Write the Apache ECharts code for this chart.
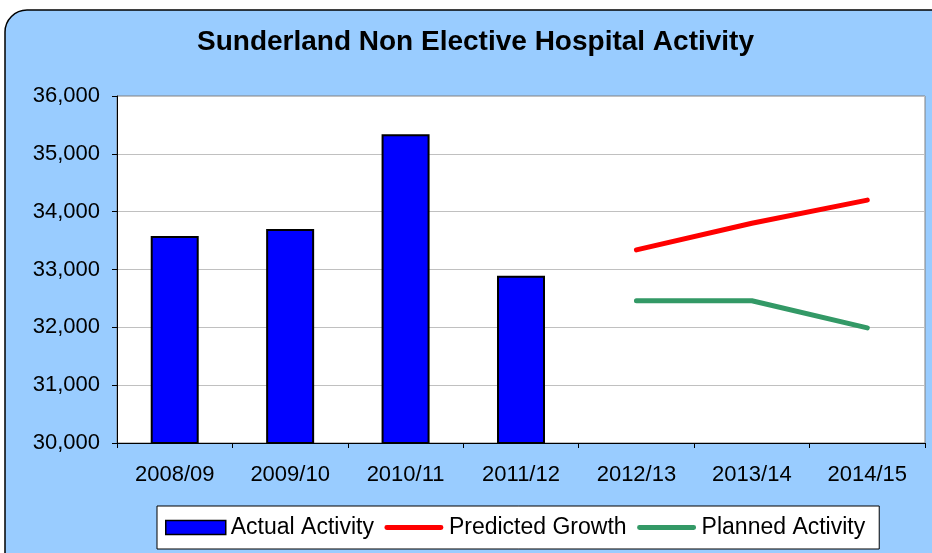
<!DOCTYPE html>
<html><head><meta charset="utf-8">
<script src="https://cdn.jsdelivr.net/npm/echarts@6/dist/echarts.min.js"></script>
<style>html,body{margin:0;padding:0;background:#fff}#c{width:932px;height:553px}</style>
</head><body><div id="c"></div>
<script>
const categories = ['2008/09','2009/10','2010/11','2011/12','2012/13','2013/14','2014/15'];
const actualActivity = [33580, 33700, 35340, 32890, null, null, null];
const predictedGrowth = [null, null, null, null, 33340, 33800, 34200];
const plannedActivity = [null, null, null, null, 32460, 32460, 31990];
const yTicks = [30000, 31000, 32000, 33000, 34000, 35000, 36000];

const chart = echarts.init(document.getElementById('c'));
const font = '"Liberation Sans", Arial, sans-serif';
const lineIcon = 'path://M0,0 M62,14 M3,4.5 L59,4.5 A2.5,2.5 0 0 1 59,9.5 L3,9.5 A2.5,2.5 0 0 1 3,4.5 Z';
chart.setOption({
  animation: false,
  backgroundColor: '#fff',
  graphic: [{
    type: 'rect', z: -10, silent: true,
    shape: { x: 5, y: 10, width: 960, height: 580, r: 22 },
    style: { fill: '#99CCFF', stroke: '#000', lineWidth: 1.5 }
  }],
  title: {
    text: 'Sunderland Non Elective Hospital Activity',
    left: 192, top: 23,
    textStyle: { fontFamily: font, fontWeight: 'bold', fontSize: 28, color: '#000' }
  },
  grid: {
    left: 117, right: 7, top: 96, bottom: 110,
    show: true, backgroundColor: '#fff', borderColor: '#808080', borderWidth: 1
  },
  legend: {
    left: 157, top: 506,
    backgroundColor: '#fff', borderColor: '#000', borderWidth: 1,
    padding: [10, 14, 10, 8],
    itemWidth: 60, itemHeight: 14, itemGap: 10,
    textStyle: { fontFamily: font, fontSize: 23, color: '#000' },
    data: [
      { name: 'Actual Activity', icon: 'rect', itemStyle: { borderColor: '#000', borderWidth: 1.5 } },
      { name: 'Predicted Growth', icon: lineIcon },
      { name: 'Planned Activity', icon: lineIcon }
    ]
  },
  xAxis: {
    type: 'category', data: categories,
    axisLine: { lineStyle: { color: '#000', width: 1 } },
    axisTick: { show: true, alignWithLabel: false, length: 5, lineStyle: { color: '#000' } },
    axisLabel: { fontFamily: font, fontSize: 22, color: '#000', margin: 21 },
    splitLine: { show: false }
  },
  yAxis: {
    type: 'value', min: yTicks[0], max: yTicks[yTicks.length - 1], interval: 1000,
    axisLine: { show: true, lineStyle: { color: '#000', width: 1 } },
    axisTick: { show: true, length: 5, lineStyle: { color: '#000' } },
    axisLabel: {
      fontFamily: font, fontSize: 22, color: '#000', margin: 17,
      formatter: v => v.toLocaleString('en-US')
    },
    splitLine: { lineStyle: { color: '#C0C0C0', width: 1 } }
  },
  series: [
    {
      name: 'Actual Activity', type: 'bar', data: actualActivity, barWidth: 48,
      itemStyle: { color: '#0000FF', borderColor: '#000', borderWidth: 2 }
    },
    {
      name: 'Predicted Growth', type: 'line', data: predictedGrowth, symbol: 'none',
      itemStyle: { color: '#FF0000' },
      lineStyle: { color: '#FF0000', width: 5, cap: 'round', join: 'round' }
    },
    {
      name: 'Planned Activity', type: 'line', data: plannedActivity, symbol: 'none',
      itemStyle: { color: '#339966' },
      lineStyle: { color: '#339966', width: 5, cap: 'round', join: 'round' }
    }
  ]
});
</script></body></html>
